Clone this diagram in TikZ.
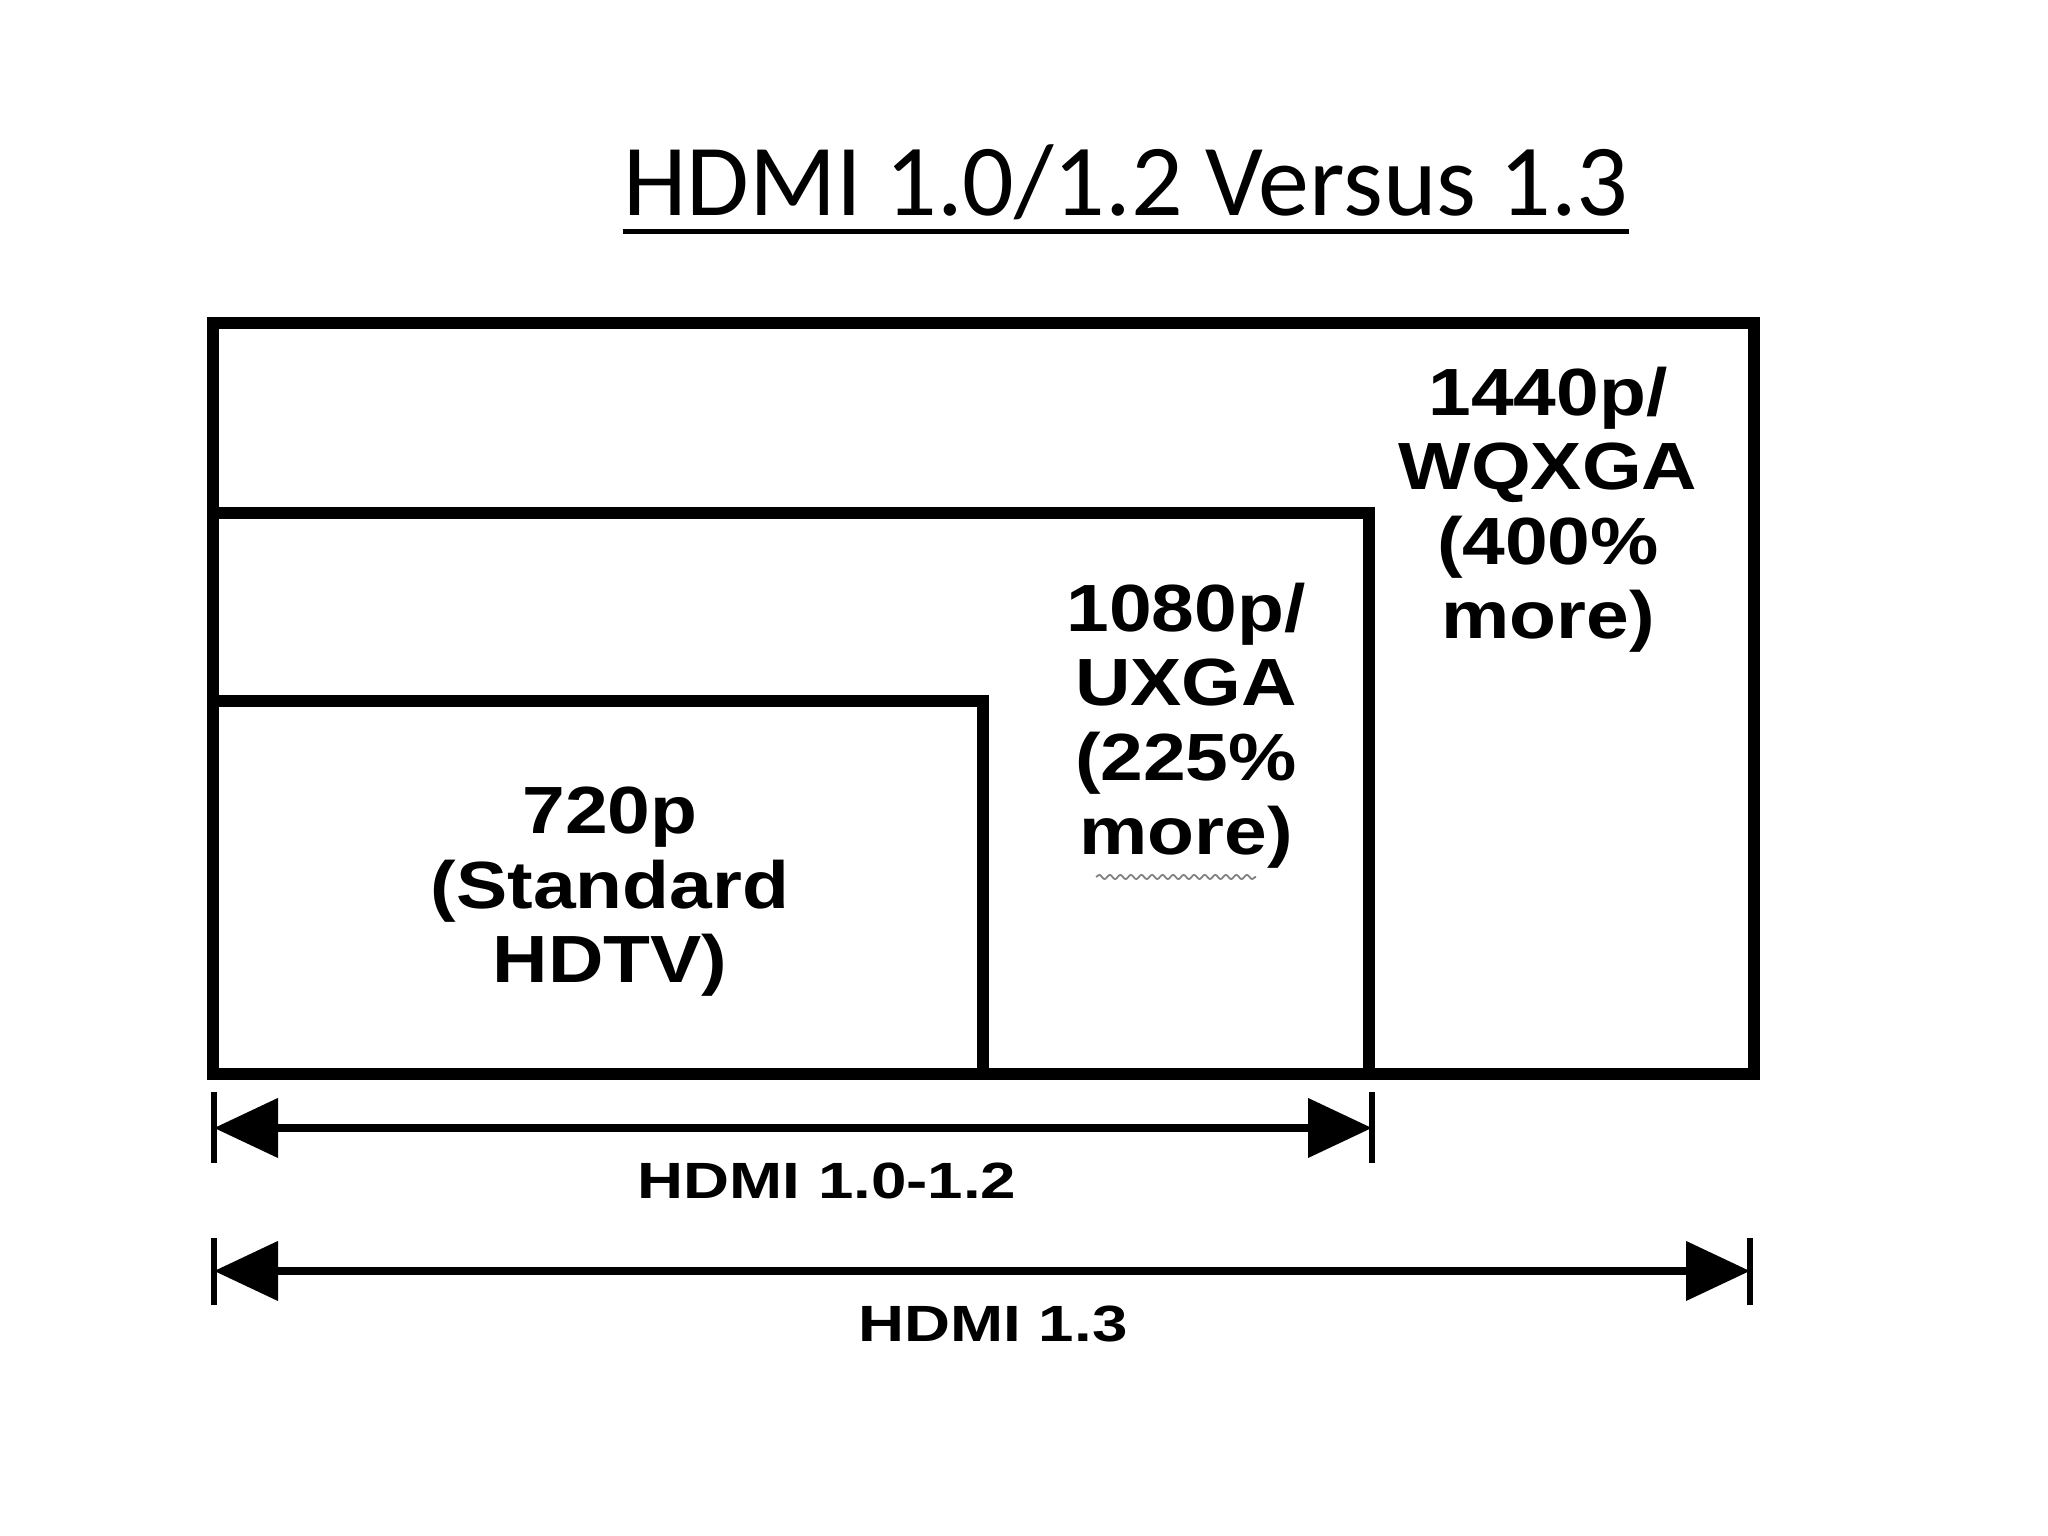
\documentclass[tikz,border=0pt]{standalone}
\usepackage{fontspec}
\usepackage{tikz}
\usetikzlibrary{arrows.meta,positioning,decorations.pathmorphing}
\newfontfamily\titlefont{Carlito}
\newfontfamily\resfont{Liberation Sans}[FakeStretch=1.15]
\newfontfamily\busfont{Liberation Sans}[FakeStretch=1.25]
\tikzset{res/.style={font=\resfont\bfseries\fontsize{19}{21.2}\selectfont, align=center, inner sep=0pt, anchor=base},
bus/.style={font=\busfont\bfseries\fontsize{14.5}{17}\selectfont, inner sep=0pt, anchor=base},
%frame of each resolution
screen/.style={line width=3.3pt, line join=miter},
busarrow/.style={line width=2.2pt, {Triangle[length=0.64cm,width=0.58cm]}-{Triangle[length=0.64cm,width=0.58cm]}},
endmark/.style={line width=1.8pt}}

\begin{document}
\begin{tikzpicture}
  \useasboundingbox[fill=white] (0,0) rectangle (20.48,15.36);

  	\node[font=\titlefont\fontsize{29}{34}\selectfont, inner sep=0pt, anchor=base] (title) at (11.26,13.20) {HDMI 1.0/1.2 Versus 1.3};
  	\draw[line width=1.4pt] ([yshift=-4.5pt]title.base west) -- ([yshift=-4.5pt]title.base east);

  	\coordinate (o) at (2.13,4.62);
  	\coordinate (q1440) at (17.54,12.13);
  	\coordinate (q1080) at (13.69,10.23);
  	\coordinate (q720) at (9.83,8.35);

  	\draw[screen] (o) rectangle (q1440);
  	\draw[screen] (o) rectangle (q1080);
  	\draw[screen] (o) rectangle (q720);

  	\node[res] (r720) at (6.10,5.53) {720p\\(Standard\\HDTV)};
  	\node[res] (r1080) at (11.86,6.81) {1080p/\\UXGA\\(225\%\\more)};
  	\node[res] (r1440) at (15.48,8.97) {1440p/\\WQXGA\\(400\%\\more)};

  	\draw[gray, line width=0.5pt, decorate, decoration={snake, amplitude=0.6pt, segment length=3pt}]
  	  ([xshift=-0.9cm, yshift=-0.22cm]r1080.base) -- ([xshift=0.7cm, yshift=-0.22cm]r1080.base) ;

  	% the two interface ranges
  	\coordinate (v12l) at (2.14,4.08);
  	\coordinate (v12r) at (13.72,4.08);
  	\coordinate (v13l) at (2.14,2.65);
  	\coordinate (v13r) at (17.50,2.65);

  	\draw[busarrow] (v12l) -- (v12r);
  	\draw[busarrow] (v13l) -- (v13r);

  	\draw[endmark] ([yshift=0.36cm]v12l) -- ([yshift=-0.35cm]v12l);
  	\draw[endmark] ([yshift=0.36cm]v12r) -- ([yshift=-0.35cm]v12r);
  	\draw[endmark] ([yshift=0.33cm]v13l) -- ([yshift=-0.34cm]v13l);
  	\draw[endmark] ([yshift=0.33cm]v13r) -- ([yshift=-0.34cm]v13r);

  	\node[bus] (l12) at (8.27,3.37) {HDMI 1.0-1.2};
  	\node[bus] (l13) at (9.93,1.94) {HDMI 1.3};

\end{tikzpicture}
\end{document}
